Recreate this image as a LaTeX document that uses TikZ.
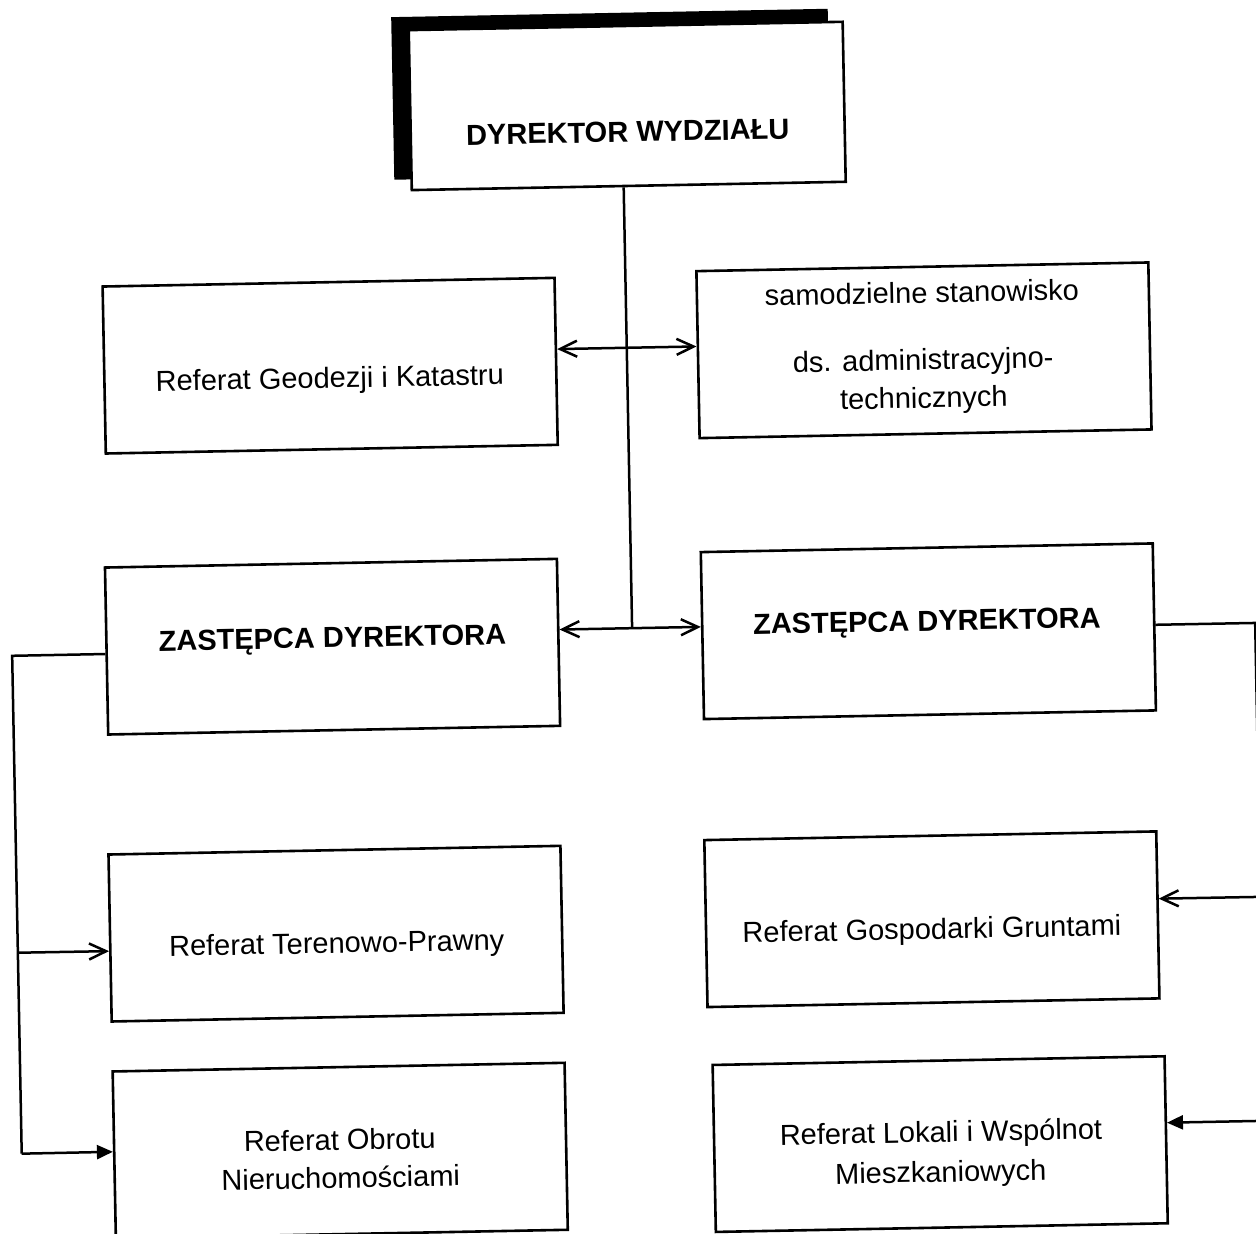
\documentclass[tikz,border=0pt]{standalone}
\usepackage{fontspec}
\setmainfont{Liberation Sans}
\usetikzlibrary{arrows.meta,calc}

\begin{document}
\begin{tikzpicture}[x=0.5pt,y=-0.5pt,
  box/.style={draw=black, line width=1.3pt, fill=white,
    minimum width=226pt, minimum height=83.5pt, inner sep=0pt},
  chief/.style={box, minimum width=217pt, minimum height=80pt},
  txt/.style={anchor=base, inner sep=0pt, font=\fontsize{14.5pt}{17pt}\selectfont},
  head/.style={txt, font=\fontsize{14.5pt}{17pt}\selectfont\bfseries},
  link/.style={line width=1.25pt, line join=miter},
  opentip/.style={link, -{Straight Barb[length=8.5pt,width=8pt]}},
  filltip/.style={link, -{Triangle[length=8pt,width=7pt]}},
  both/.style={link, {Straight Barb[length=8.5pt,width=8pt]}-{Straight Barb[length=8.5pt,width=8pt]}}
]
\fill[white] (0,0) rectangle (1256,1233);
\useasboundingbox (0,0) rectangle (1256,1233);
\clip (0,0) rectangle (1256,1233);

\begin{scope}[rotate around={1.1:(628,616)}, transform shape]
  % head of the department, with its dark shadow
  \node[chief, fill=black] (topsh) at (621,94) {};
  \node[chief] (top) at (637,106) {};
  \node[head] (top-t) at (637,142) {DYREKTOR WYDZIAŁU};

  % units
  \node[box] (geo)  at (335,360)  {};
  \node[box] (sam)  at (929,356)  {};
  \node[box] (zl)   at (332,641)  {};
  \node[box] (zr)   at (928,637)  {};
  \node[box] (ter)  at (330,928)  {};
  \node[box] (gosp) at (926,925)  {};
  \node[box] (obr)  at (330,1145) {};
  \node[box] (lok)  at (930,1150) {};

  % labels
  \node[txt]  (geo-t)  at (334.4,382.3) {Referat Geodezji i Katastru};
  \node[txt]  (sam-t1) at (928,308.6)   {samodzielne stanowisko};
  \node[txt]  (sam-t2) at (928,375.6)   {ds. administracyjno-};
  \node[txt]  (sam-t3) at (928,413.6)   {technicznych};
  \node[head] (zl-t)   at (332,642)     {ZASTĘPCA DYREKTORA};
  \node[head] (zr-t)   at (926.7,636.7) {ZASTĘPCA DYREKTORA};
  \node[txt]  (ter-t)  at (330.5,947.4) {Referat Terenowo-Prawny};
  \node[txt]  (gosp-t) at (925.8,944.8) {Referat Gospodarki Gruntami};
  \node[txt]  (obr-t1) at (329.7,1144.5) {Referat Obrotu};
  \node[txt]  (obr-t2) at (330,1182.5)  {Nieruchomościami};
  \node[txt]  (lok-t1) at (931,1148)    {Referat Lokali i Wspólnot};
  \node[txt]  (lok-t2) at (930,1188)    {Mieszkaniowych};

  % attachment points on the box sides
  \coordinate (geo-a)  at ($(geo.east)!0.144!(geo.north east)$);
  \coordinate (sam-a)  at ($(sam.west)!0.096!(sam.north west)$);
  \coordinate (zl-a)   at ($(zl.east)!0.150!(zl.north east)$);
  \coordinate (zr-a)   at ($(zr.west)!0.102!(zr.north west)$);
  \coordinate (hub)    at ($(zl-a)!0.514!(zr-a)$);
  \coordinate (drop)   at ($(top.south west)!0.4885!(top.south east)$);
  \coordinate (zl-w)   at ($(zl.west)!0.036!(zl.south west)$);
  \coordinate (ter-w)  at ($(ter.west)!0.156!(ter.south west)$);
  \coordinate (obr-w)  at ($(obr.west)!0.036!(obr.north west)$);
  \coordinate (zr-e)   at ($(zr.east)!0.024!(zr.north east)$);
  \coordinate (gosp-e) at ($(gosp.east)!0.19!(gosp.north east)$);
  \coordinate (lok-e)  at ($(lok.east)!0.2!(lok.north east)$);

  % bends of the side lines
  \coordinate (lc1) at (11.5,644);
  \coordinate (lc2) at (11.5,941);
  \coordinate (lc3) at (11.5,1142);
  \coordinate (rc1) at (1255,635);
  \coordinate (rc2) at (1255,909);
  \coordinate (rc3) at (1255,1133);

  % connectors
  \draw[link] (drop) -- (hub);
  \draw[both] (geo-a) -- (sam-a);
  \draw[both] (zl-a) -- (zr-a);

  \draw[link] (zl-w) -- (lc1) -- (lc3);
  \draw[opentip] (lc2) -- (ter-w);
  \draw[filltip] (lc3) -- (obr-w);

  \draw[link] (zr-e) -- (rc1) -- (rc3);
  \draw[opentip] (rc2) -- (gosp-e);
  \draw[filltip] (rc3) -- (lok-e);
\end{scope}
\end{tikzpicture}
\end{document}
